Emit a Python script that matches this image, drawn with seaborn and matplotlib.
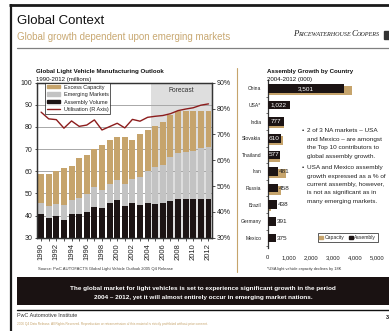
import numpy as np
import pandas as pd
import matplotlib
matplotlib.use("Agg")
import matplotlib.pyplot as plt
from matplotlib.patches import Patch, Rectangle
from matplotlib.lines import Line2D
from matplotlib.ticker import FuncFormatter
import seaborn as sns

# ---- Global light vehicle manufacturing outlook (millions) ----
years = list(range(1990, 2013))
assembly_volume = [40.7, 38.8, 39.7, 37.9, 40.7, 40.7, 41.6, 43.8, 43.3, 45.6, 46.9, 44.3,
                   45.7, 44.9, 45.7, 45.2, 45.8, 46.6, 47.5, 47.5, 47.7, 47.7, 47.5]
emerging_markets = [4.9, 5.4, 5.4, 6.8, 6.2, 7.2, 8.0, 9.0, 8.1, 8.6, 9.0, 9.9,
                    10.7, 12.4, 14.3, 16.6, 17.2, 19.7, 20.9, 21.4, 21.6, 22.6, 23.3]
excess_capacity = [13.0, 14.4, 14.9, 17.0, 15.7, 17.9, 17.9, 17.1, 20.6, 20.1, 19.4, 21.1,
                   17.9, 19.6, 18.7, 18.7, 19.4, 18.9, 18.6, 18.5, 18.1, 16.7, 16.2]
utilisation = [78.6, 76.0, 75.7, 72.4, 75.2, 73.1, 73.6, 75.6, 71.7, 73.0, 74.3, 72.5,
               75.8, 75.1, 76.6, 77.0, 77.3, 78.0, 79.2, 79.8, 80.3, 81.3, 81.8]
forecast_from = 2005

# ---- Assembly growth by country 2004-2012 (000) ----
countries = ["China", "USA*", "India", "Slovakia", "Thailand",
             "Iran", "Russia", "Brazil", "Germany", "Mexico"]
assembly_growth = [3501, 1022, 777, 610, 577, 481, 458, 438, 391, 375]
capacity_growth = [3850, -18, 740, 720, 560, 840, 620, 160, 90, 90]

bullets = [
    ["2 of 3 NA markets \u2013 USA", "and Mexico \u2013 are amongst",
     "the Top 10 contributors to", "global assembly growth."],
    ["USA and Mexico assembly", "growth expressed as a % of",
     "current assembly, however,", "is not as significant as in",
     "many emerging markets."],
]

W, H = 389, 331
TAN = "#C6A46C"
GREY = "#C3C3C3"
BLACK = "#1C1414"
RED = "#8C1C1C"
SHADE = "#DEDEDE"
INK = "#222222"

sns.set_theme(style="ticks")
plt.rcParams["font.family"] = ["Liberation Sans", "DejaVu Sans"]

fig = plt.figure(figsize=(W / 100, H / 100), dpi=100)
fig.patch.set_facecolor("white")


def ftext(x, y, s, **kw):
    kw.setdefault("va", "center")
    return fig.text(x / W, 1 - y / H, s, **kw)


def fline(x0, y0, x1, y1, **kw):
    fig.add_artist(Line2D([x0 / W, x1 / W], [1 - y0 / H, 1 - y1 / H],
                          transform=fig.transFigure, **kw))


def fax(x0, y0, x1, y1):
    return fig.add_axes([x0 / W, 1 - y1 / H, (x1 - x0) / W, (y1 - y0) / H])


# ---------------- slide frame ----------------
fline(9, 5, 389, 5, color="#1a1a1a", lw=2.0, solid_capstyle="butt")
fline(10.5, 4, 10.5, 331, color="#1a1a1a", lw=1.6, solid_capstyle="butt")
ftext(17, 21.5, "Global Context", fontsize=9.5, color="#111111")
ftext(17, 36.5, "Global growth dependent upon emerging markets", fontsize=7, color="#C9A973")
fline(17, 47.7, 389, 47.7, color="#808080", lw=0.9)

# logo lettering
renderer = fig.canvas.get_renderer()
lx = 293
for piece, size in [("P", 6.3), ("RICEWATERHOUSE", 4.4), ("C", 6.3), ("OOPERS", 4.4)]:
    t = ftext(lx, 36.5, piece, fontsize=size, style="italic",
              family=["Liberation Serif", "DejaVu Serif"], color="#222222", va="baseline")
    lx += t.get_window_extent(renderer).width
fig.add_artist(Rectangle((384 / W, 1 - 39 / H), 6 / W, 8 / H,
                         transform=fig.transFigure, color="#333333"))

# separator between the two panels
fline(237.3, 68, 237.3, 272, color=TAN, lw=0.8)

# ---------------- left panel ----------------
ftext(36, 71.3, "Global Light Vehicle Manufacturing Outlook", fontsize=4.4,
      fontweight="bold", color="#111111")
ftext(36, 79.7, "1990-2012 (millions)", fontsize=4.4, color="#111111")

ax = fax(37.3, 82.7, 212.3, 237.7)
year_labels = [str(y) for y in years]
a = np.array(assembly_volume)
grey_top = a + np.array(emerging_markets)
cap_top = grey_top + np.array(excess_capacity)

n = len(years)
start = years.index(forecast_from) - 0.55
ax.axvspan(start, n - 0.5, color=SHADE, zorder=0.2, lw=0)
for series, col in [(cap_top, TAN), (grey_top, GREY), (a, BLACK)]:
    sns.barplot(x=year_labels, y=series, color=col, saturation=1, width=0.78,
                errorbar=None, linewidth=0, ax=ax)
ax.set_ylim(30, 100)
ax.set_xlim(-0.5, n - 0.5)
ax.set_yticks(range(30, 101, 10))
ax.set_axisbelow(True)
ax.yaxis.grid(True, color="#A8A8A8", lw=0.7)
ax.set_xticks(range(n))
ax.set_xticklabels([lab if i % 2 == 0 else "" for i, lab in enumerate(year_labels)],
                   rotation=90)
ax.set_xlabel("")
ax.set_ylabel("")
ax.tick_params(axis="both", direction="out", length=1.8, width=0.6, colors="#333333",
               labelcolor=INK, labelsize=5, pad=1.6)
ax.tick_params(axis="x", labelsize=5.5, pad=2.2)
for sp in ax.spines.values():
    sp.set_color("#333333")
    sp.set_linewidth(0.9)
ax.text((start + n - 0.5) / 2, 96.3, "Forecast", ha="center", va="center",
        fontsize=4.8, color="#333333")

ax2 = ax.twinx()
sns.lineplot(x=np.arange(n), y=utilisation, color=RED, lw=1.0, ax=ax2)
ax2.set_ylim(30, 90)
ax2.set_xlim(-0.5, n - 0.5)
ax2.set_yticks(range(30, 91, 10))
ax2.yaxis.set_major_formatter(FuncFormatter(lambda v, p: f"{int(v)}%"))
ax2.set_ylabel("")
ax2.tick_params(axis="y", direction="out", length=1.8, width=0.6, colors="#333333",
                labelcolor=INK, labelsize=5, pad=1.6)
for sp in ax2.spines.values():
    sp.set_color("#333333")
    sp.set_linewidth(0.9)

handles = [Patch(color=TAN, label="Excess Capacity"),
           Patch(color=GREY, label="Emerging Markets"),
           Patch(color=BLACK, label="Assembly Volume"),
           Line2D([], [], color=RED, lw=1.0, label="Utilisation (R Axis)")]
leg = ax2.legend(handles=handles, loc="upper left", bbox_to_anchor=(0.044, 1.0),
                 fontsize=4, frameon=True, fancybox=False, borderaxespad=0,
                 handlelength=2.4, handleheight=0.6, labelspacing=0.45,
                 borderpad=0.35, handletextpad=0.6)
leg.get_frame().set_edgecolor("#111111")
leg.get_frame().set_linewidth(0.6)
leg.set_zorder(10)
for t in leg.get_texts():
    t.set_color(INK)

ftext(38.3, 269.3, "Source: PwC AUTOFACTS Global Light Vehicle Outlook 2005 Q4 Release",
      fontsize=3.0, color="#333333")

# ---------------- right panel ----------------
ftext(266.7, 71.3, "Assembly Growth by Country", fontsize=4.4, fontweight="bold",
      color="#111111")
ftext(266.7, 79.7, "2004-2012 (000)", fontsize=4.4, color="#111111")

axr = fax(267.5, 80, 376.7, 248)
sns.barplot(x=capacity_growth, y=countries, orient="h", color=TAN, saturation=1,
            width=0.52, errorbar=None, linewidth=0, ax=axr)
for p in axr.patches:
    p.set_y(p.get_y() + 0.14)
k = len(axr.patches)
sns.barplot(x=assembly_growth, y=countries, orient="h", color=BLACK, saturation=1,
            width=0.52, errorbar=None, linewidth=0, ax=axr)
for p in axr.patches[k:]:
    p.set_zorder(3)

axr.set_xlim(0, 5000)
axr.set_ylim(len(countries) - 0.4, -0.5)
axr.set_xticks(range(0, 5001, 1000))
axr.xaxis.set_major_formatter(FuncFormatter(lambda v, p: f"{int(v):,}"))
axr.set_xlabel("")
axr.set_ylabel("")
axr.set_yticks(np.arange(len(countries)) + 0.5, minor=True)
axr.tick_params(axis="x", length=0, labelsize=4.2, pad=5, labelcolor=INK)
axr.tick_params(axis="y", which="major", length=0, labelsize=3.6, pad=4.5, labelcolor=INK)
axr.tick_params(axis="y", which="minor", direction="out", length=1.8, width=0.5,
                color="#333333")
for side in ["top", "right", "bottom"]:
    axr.spines[side].set_visible(False)
axr.spines["left"].set_color("#333333")
axr.spines["left"].set_linewidth(0.9)

for i, v in enumerate(assembly_growth):
    if v >= 500:
        axr.text(v / 2, i, f"{v:,}", ha="center", va="center", fontsize=4.6,
                 color="white", zorder=5)
    else:
        axr.text(v + 45, i, f"{v:,}", ha="left", va="center", fontsize=4.6,
                 color=INK, zorder=5)

lg = axr.legend(handles=[Patch(color=TAN, label="Capacity"),
                         Patch(color=BLACK, label="Assembly")],
                loc="lower right", bbox_to_anchor=(1.01, 0.036), ncol=2,
                fontsize=3.6, frameon=True, fancybox=False, borderaxespad=0,
                handlelength=0.8, handleheight=0.8, handletextpad=0.3,
                columnspacing=0.8, borderpad=0.35)
lg.get_frame().set_edgecolor("#111111")
lg.get_frame().set_linewidth(0.6)

bullet_y = [131.0, 167.7]
for lines, y0 in zip(bullets, bullet_y):
    ftext(302, y0, "\u2022", fontsize=4.6, color=INK)
    for j, line in enumerate(lines):
        ftext(306.7, y0 + j * 8.4, line, fontsize=4.6, color=INK)

ftext(267, 269, "*USA light vehicle capacity declines by 18K", fontsize=2.8, color="#333333")

# ---------------- key message banner & footer ----------------
fig.add_artist(Rectangle((17 / W, 1 - 305 / H), (W - 17) / W, 28 / H,
                         transform=fig.transFigure, color="#1A1212", lw=0))
ftext(203, 288.3, "The global market for light vehicles is set to experience significant "
      "growth in the period", fontsize=4.6, fontweight="bold", color="white", ha="center")
ftext(203, 297.3, "2004 \u2013 2012, yet it will almost entirely occur in emerging "
      "market nations.", fontsize=4.6, fontweight="bold", color="white", ha="center")
fline(17, 309.5, 389, 309.5, color="#111111", lw=1.0)
ftext(17, 315.7, "PwC Automotive Institute", fontsize=3.9, color="#333333")
ftext(17, 323.6, "2006 Q4 Data Release. All Rights Reserved. Reproduction or retransmission "
      "of this material is strictly prohibited without prior consent.",
      fontsize=2.3, color=TAN)
ftext(386, 317.5, "3", fontsize=4, fontweight="bold", color="#111111")

fig.savefig("out.png", dpi=100)
